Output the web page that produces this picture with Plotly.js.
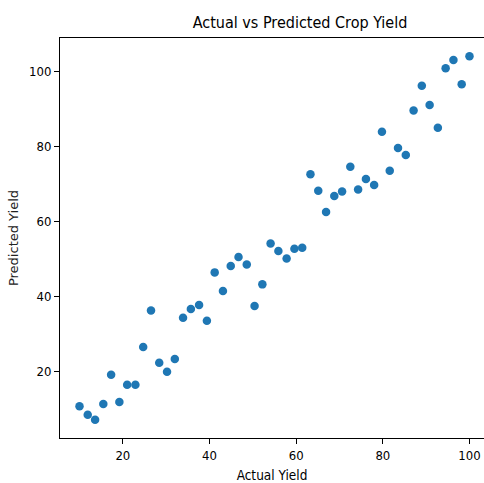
<!DOCTYPE html>
<html>
<head>
<meta charset="utf-8">
<script src="https://cdn.plot.ly/plotly-3.0.1.min.js"></script>
<style>html,body{margin:0;padding:0;background:#fff;}#chart{width:484px;height:483px;}</style>
</head>
<body>
<div id="chart"></div>
<script>
const actualYield = [10.0, 11.9, 13.6, 15.5, 17.3, 19.2, 21.0, 22.9, 24.7, 26.5,
  28.4, 30.2, 32.0, 33.9, 35.7, 37.6, 39.4, 41.2, 43.1, 44.9,
  46.7, 48.6, 50.4, 52.2, 54.1, 55.9, 57.8, 59.6, 61.4, 63.3,
  65.1, 66.9, 68.8, 70.6, 72.5, 74.3, 76.1, 78.0, 79.8, 81.6,
  83.5, 85.3, 87.1, 89.0, 90.8, 92.7, 94.5, 96.3, 98.2, 100.0];
const predictedYield = [10.8, 8.5, 7.2, 11.4, 19.2, 11.9, 16.5, 16.5, 26.6, 36.3,
  22.4, 20.0, 23.4, 34.4, 36.7, 37.8, 33.6, 46.5, 41.5, 48.2,
  50.6, 48.6, 37.5, 43.3, 54.2, 52.2, 50.2, 52.8, 53.1, 72.7,
  68.3, 62.6, 66.9, 68.1, 74.7, 68.6, 71.4, 69.8, 84.0, 73.6,
  79.7, 77.8, 89.7, 96.3, 91.2, 85.1, 101.0, 103.2, 96.7, 104.2];
const xTicks = [20, 40, 60, 80, 100];
const yTicks = [20, 40, 60, 80, 100];

const FONT = "DejaVu Sans Condensed, DejaVu Sans, sans-serif";
const trace = {
  type: 'scatter', mode: 'markers',
  x: actualYield, y: predictedYield,
  marker: {color: '#1f77b4', size: 8.5, line: {width: 0}},
  hoverinfo: 'skip'
};
const layout = {
  width: 484, height: 483,
  margin: {l: 60, r: 0, t: 38, b: 45},
  paper_bgcolor: '#fff', plot_bgcolor: '#fff',
  showlegend: false,
  title: {text: 'Actual vs Predicted Crop Yield', font: {family: FONT, size: 16, color: '#000'},
    x: 274/484, xanchor: 'center', xref: 'paper', yref: 'container', y: 1 - 22/483, yanchor: 'middle'},
  xaxis: {range: [5.5, 103.35], tickvals: xTicks, ticktext: xTicks.map(String),
    showgrid: false, zeroline: false, showline: true, linecolor: '#000', linewidth: 1, mirror: true,
    ticks: 'outside', ticklen: 5, tickcolor: '#000', tickwidth: 1,
    tickfont: {family: FONT, size: 13, color: '#000'},
    title: {text: 'Actual Yield', font: {family: FONT, size: 13.5, color: '#000'}, standoff: 8}},
  yaxis: {range: [2.3, 109.05], tickvals: yTicks, ticktext: yTicks.map(String),
    showgrid: false, zeroline: false, showline: true, linecolor: '#000', linewidth: 1, mirror: false,
    ticks: 'outside', ticklen: 5, tickcolor: '#000', tickwidth: 1,
    tickfont: {family: FONT, size: 13, color: '#000'},
    title: {text: 'Predicted Yield', font: {family: 'DejaVu Sans, sans-serif', size: 13, color: '#222'}, standoff: 7}}
};
Plotly.newPlot('chart', [trace], layout, {displayModeBar: false, staticPlot: true});
</script>
</body>
</html>
